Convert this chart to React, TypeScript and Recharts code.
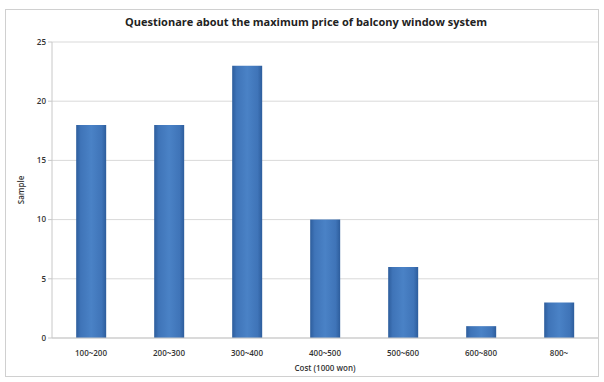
import React from "react";
import { BarChart, Bar, XAxis, YAxis, CartesianGrid, Label } from "recharts";

const categories = ["100~200", "200~300", "300~400", "400~500", "500~600", "600~800", "800~"];
const samples = [18, 18, 23, 10, 6, 1, 3];
const yTicks = [0, 5, 10, 15, 20, 25];

const data = categories.map((c, i) => ({ cost: c, sample: samples[i] }));

const FONT = "'Open Sans', 'Liberation Sans', sans-serif";

export default function App() {
  return (
    <div style={{ position: "absolute", left: 0, top: 0, width: 604, height: 382, background: "#fff", fontFamily: FONT }}>
      <div style={{ position: "absolute", left: 5, top: 9, width: 594, height: 368, border: "1px solid #d0d0d0", boxSizing: "border-box" }} />
      <div style={{ position: "absolute", left: 0, top: 14, width: 612, textAlign: "center", fontSize: 11, fontWeight: 700, color: "#222" }}>
        Questionare about the maximum price of balcony window system
      </div>
      <BarChart
        width={604}
        height={382}
        data={data}
        margin={{ top: 42, right: 6, bottom: 14, left: 10 }}
        barCategoryGap="31%"
      >
        <defs>
          <linearGradient id="barGrad" x1="0" y1="0" x2="1" y2="0">
            <stop offset="0%" stopColor="#2d5d9c" />
            <stop offset="15%" stopColor="#3f74b8" />
            <stop offset="50%" stopColor="#4a82c6" />
            <stop offset="85%" stopColor="#3f74b8" />
            <stop offset="100%" stopColor="#2d5d9c" />
          </linearGradient>
        </defs>
        <CartesianGrid vertical={false} stroke="#d9d9d9" />
        <XAxis
          dataKey="cost"
          height={30}
          axisLine={{ stroke: "#c8c8c8" }}
          tickLine={false}
          tick={{ fontSize: 8, fill: "#333", fontFamily: FONT, fontWeight: 600 }}
          tickMargin={6}
        >
          <Label value="Cost (1000 won)" position="insideBottom" offset={-3} style={{ fontSize: 8, fill: "#333", fontFamily: FONT, fontWeight: 600 }} />
        </XAxis>
        <YAxis
          domain={[0, 25]}
          ticks={yTicks}
          width={42}
          axisLine={{ stroke: "#c8c8c8" }}
          tickLine={{ stroke: "#c8c8c8" }}
          tickSize={4}
          tick={{ fontSize: 8, fill: "#333", fontFamily: FONT, fontWeight: 600 }}
        />
        <Bar dataKey="sample" fill="url(#barGrad)" isAnimationActive={false} />
      </BarChart>
      <div style={{ position: "absolute", left: 20, top: 190, transform: "translate(-50%, -50%) rotate(-90deg)", fontSize: 8, fontWeight: 600, color: "#333", whiteSpace: "nowrap" }}>
        Sample
      </div>
    </div>
  );
}
